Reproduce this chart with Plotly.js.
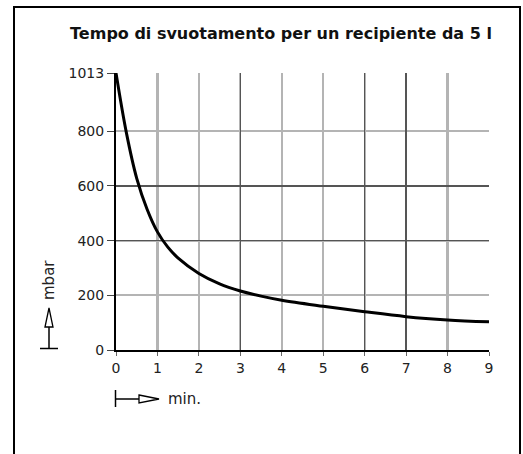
<!DOCTYPE html>
<html>
<head>
<meta charset="utf-8">
<script src="https://cdn.plot.ly/plotly-3.0.1.min.js"></script>
<style>
html,body{margin:0;padding:0;background:#fff;overflow:hidden;}
#chart{position:absolute;left:0;top:0;width:523px;height:454px;}
#frame{position:absolute;left:13px;top:6px;width:504px;height:470px;border:2px solid #000;pointer-events:none;}
</style>
</head>
<body>
<div id="chart"></div>
<div id="frame"></div>
<script>
// Data
const timeMin = [0, 0.25, 0.5, 0.75, 1, 1.25, 1.5, 2, 2.5, 3, 3.5, 4, 5, 6, 7, 8, 9];
const pressureMbar = [1013, 795, 628, 515, 432, 376, 336, 280, 242, 216, 197, 182, 160, 140, 122, 110, 103];
const xTicks = [0, 1, 2, 3, 4, 5, 6, 7, 8, 9];
const xDarkGrid = [3, 6, 7];
const yTicks = [0, 200, 400, 600, 800, 1013];
const yTickText = ['0', '200', '400', '600', '800', '1013'];
const yDarkGrid = [400, 600, 1013];
const titleText = 'Tempo di svuotamento per un recipiente da 5 l';
const xLabel = 'min.';
const yLabel = 'mbar';

const W = 523, H = 454;
const L = 116, R = 34, T = 73, B = 104;
const pw = W - L - R, ph = H - T - B;
const px = p => (p - L) / pw;       // pixel x -> paper
const py = p => (H - B - p) / ph;   // pixel y -> paper

const font = 'DejaVu Sans, Verdana, sans-serif';

const trace = {
  x: timeMin, y: pressureMbar, type: 'scatter', mode: 'lines',
  line: {color: '#000', width: 3, shape: 'spline', smoothing: 1},
  xaxis: 'x2', yaxis: 'y2', hoverinfo: 'skip', showlegend: false
};
const base = {
  x: timeMin, y: pressureMbar, type: 'scatter', mode: 'lines',
  line: {color: 'rgba(0,0,0,0)', width: 0}, hoverinfo: 'skip', showlegend: false
};

const shapes = [
  // x label arrow  |--|>
  {type:'line', xref:'paper', yref:'paper', x0:px(115.5), x1:px(115.5), y0:py(390), y1:py(407), line:{color:'#000', width:1.5}},
  {type:'line', xref:'paper', yref:'paper', x0:px(115.5), x1:px(139), y0:py(399), y1:py(399), line:{color:'#000', width:1.5}},
  {type:'path', xref:'paper', yref:'paper',
   path:`M ${px(139)} ${py(395)} L ${px(159)} ${py(399)} L ${px(139)} ${py(403)} Z`,
   fillcolor:'#fff', line:{color:'#000', width:1.3}},
  // y label arrow
  {type:'line', xref:'paper', yref:'paper', x0:px(40), x1:px(58), y0:py(348.5), y1:py(348.5), line:{color:'#000', width:1.5}},
  {type:'line', xref:'paper', yref:'paper', x0:px(49), x1:px(49), y0:py(348.5), y1:py(327), line:{color:'#000', width:1.5}},
  {type:'path', xref:'paper', yref:'paper',
   path:`M ${px(45)} ${py(327)} L ${px(49)} ${py(308)} L ${px(53)} ${py(327)} Z`,
   fillcolor:'#fff', line:{color:'#000', width:1.3}}
];

const layout = {
  width: W, height: H,
  margin: {l: L, r: R, t: T, b: B, pad: 0},
  paper_bgcolor: '#fff', plot_bgcolor: '#fff',
  font: {family: font, size: 14, color: '#222'},
  showlegend: false,
  title: {
    text: '<b>' + titleText + '</b>',
    font: {family: font, size: 16, color: '#111'},
    xref: 'paper', x: px(281), xanchor: 'center',
    yref: 'container', y: 1 - 33 / H, yanchor: 'middle'
  },
  xaxis: {
    range: [0, 9], tickvals: xTicks, ticktext: xTicks.map(String),
    showgrid: true, gridcolor: '#b4b4b4', gridwidth: 2.2,
    showline: true, linecolor: '#000', linewidth: 2,
    ticks: 'outside', ticklen: 4, tickcolor: '#666', tickwidth: 1,
    zeroline: false, fixedrange: true,
    tickfont: {family: font, size: 14, color: '#222'}
  },
  yaxis: {
    range: [0, 1013], tickvals: yTicks, ticktext: yTickText,
    showgrid: true, gridcolor: '#b4b4b4', gridwidth: 2.2,
    showline: true, linecolor: '#000', linewidth: 2,
    ticks: 'outside', ticklen: 7, tickcolor: '#444', tickwidth: 1,
    zeroline: false, fixedrange: true,
    tickfont: {family: font, size: 14, color: '#222'}
  },
  xaxis2: {
    overlaying: 'x', range: [0, 9], tickvals: xDarkGrid, showticklabels: false,
    showgrid: true, gridcolor: '#555', gridwidth: 1.4, zeroline: false, showline: false, ticks: '',
    fixedrange: true
  },
  yaxis2: {
    overlaying: 'y', range: [0, 1013], tickvals: yDarkGrid, showticklabels: false,
    showgrid: true, gridcolor: '#555', gridwidth: 1.4, zeroline: false, showline: false, ticks: '',
    fixedrange: true
  },
  shapes: shapes,
  annotations: [
    {text: xLabel, xref: 'paper', yref: 'paper', x: px(166), y: py(399), xanchor: 'left', yanchor: 'middle',
     showarrow: false, font: {family: font, size: 15, color: '#222'}},
    {text: yLabel, xref: 'paper', yref: 'paper', x: px(49), y: py(280), xanchor: 'center', yanchor: 'middle',
     textangle: -90, showarrow: false, font: {family: font, size: 15, color: '#222'}}
  ]
};

Plotly.newPlot('chart', [base, trace], layout, {staticPlot: true, displayModeBar: false});
</script>
</body>
</html>
